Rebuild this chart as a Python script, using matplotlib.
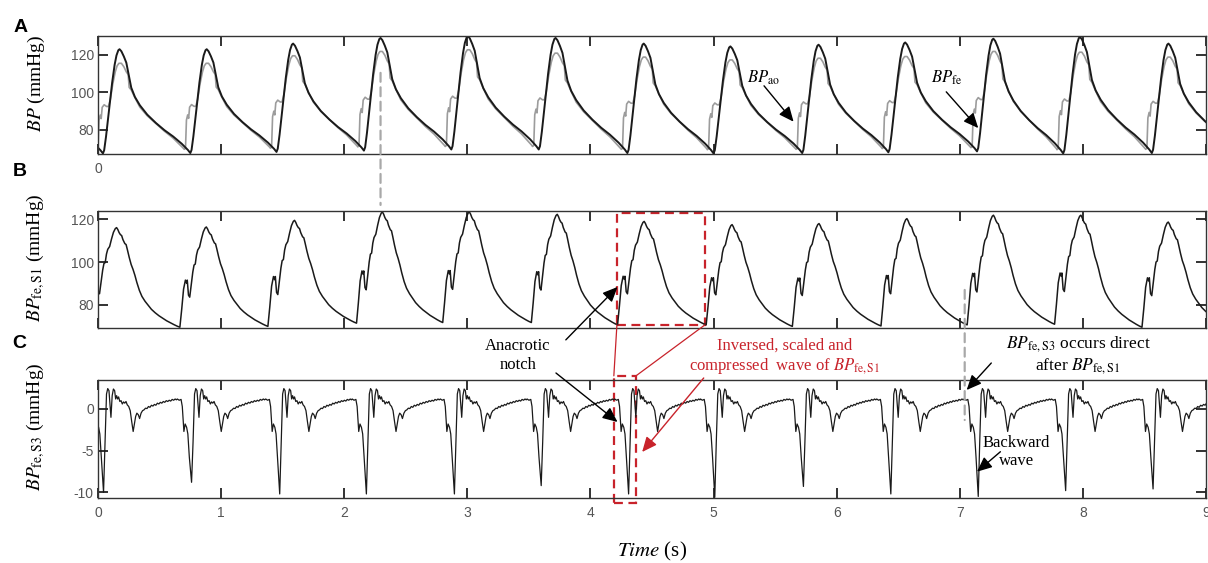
import numpy as np
import matplotlib
matplotlib.use("Agg")
import matplotlib.pyplot as plt
from matplotlib.patches import Rectangle, ConnectionPatch

plt.rcParams["font.family"] = ["Liberation Sans", "DejaVu Sans"]
plt.rcParams["mathtext.fontset"] = "stix"
plt.rcParams["axes.unicode_minus"] = False

# ---------------- data ----------------
# Panel A: beat onsets (foot of BP_ao), systolic peaks and diastolic lows (mmHg)
a_feet = [-0.67, 0.04, 0.75, 1.45, 2.16, 2.87, 3.58, 4.30, 5.00, 5.72, 6.42, 7.14, 7.84, 8.56, 9.27]
a_ao_peaks = [124, 123, 123, 126, 129, 130, 129, 126, 124.5, 125.4, 126.6, 128.6, 129.5, 126]
a_ao_lows = [68, 67.5, 67.7, 68.3, 69.0, 69.6, 69.6, 67.7, 67.5, 67.7, 68.1, 68.6, 67.5, 67.7, 68]
a_fe_peaks = [116, 115.5, 115.5, 119.5, 121.8, 122.7, 120.9, 118.8, 117.3, 118.2, 119.1, 121.8, 121.4, 118.8]
a_fe_lows = [70, 69.5, 69.7, 70.3, 71.0, 71.2, 71.2, 69.7, 69.5, 69.7, 70.1, 70.6, 69.5, 69.7, 70]

# one digitised beat of BP_ao (time after foot in s, fraction of pulse height)
ao_dt = [0.000, 0.010, 0.025, 0.050, 0.075, 0.095, 0.110, 0.125, 0.135, 0.150, 0.170, 0.190,
         0.210, 0.230, 0.260, 0.300, 0.360, 0.430, 0.500, 0.570, 0.640, 0.690]
ao_s = [0.00, 0.03, 0.16, 0.42, 0.68, 0.85, 0.94, 0.99, 1.00, 0.98, 0.93, 0.87,
        0.75, 0.63, 0.54, 0.46, 0.37, 0.29, 0.22, 0.16, 0.09, 0.03]

# one digitised beat of BP_fe (relative to the BP_ao foot)
fe_dt = [-0.050, -0.040, -0.032, -0.022, -0.014, -0.006, 0.010, 0.030, 0.045, 0.060, 0.080,
         0.100, 0.115, 0.130, 0.150, 0.170, 0.190, 0.205, 0.213, 0.230, 0.260, 0.300, 0.360,
         0.430, 0.500, 0.570, 0.620, 0.655]
fe_s = [0.00, 0.01, 0.34, 0.40, 0.36, 0.49, 0.52, 0.50, 0.50, 0.58, 0.76,
        0.90, 0.97, 1.00, 1.00, 0.96, 0.90, 0.87, 0.72, 0.69, 0.60, 0.49, 0.39,
        0.30, 0.21, 0.13, 0.06, 0.01]

# Panel B: BP_fe,S1
b_feet = [-0.07, 0.665, 1.38, 2.10, 2.80, 3.52, 4.22, 4.94, 5.64, 6.36, 7.06, 7.77, 8.48, 9.19]
b_peaks = [116.1, 116.4, 119.5, 123.4, 123.4, 122.3, 119.0, 117.5, 118.0, 120.3, 121.9, 121.9, 118.7]
b_lows = [72, 69.6, 70.0, 71.5, 71.8, 71.8, 70.7, 70.7, 70.0, 70.2, 70.7, 71.0, 69.6, 70]
s1_dt = [0.000, 0.015, 0.030, 0.045, 0.055, 0.060, 0.070, 0.080, 0.090, 0.105, 0.115, 0.125,
         0.135, 0.145, 0.160, 0.175, 0.190, 0.205, 0.215, 0.225, 0.235, 0.245, 0.255, 0.265,
         0.280, 0.290, 0.300, 0.315, 0.330, 0.345, 0.360, 0.375, 0.395, 0.415, 0.440, 0.465,
         0.490, 0.520, 0.550, 0.580, 0.610, 0.640, 0.670, 0.695]
s1_s = [0.00, 0.18, 0.38, 0.47, 0.44, 0.47, 0.32, 0.30, 0.40, 0.55, 0.62, 0.63,
        0.72, 0.77, 0.80, 0.88, 0.95, 0.99, 1.00, 0.98, 0.95, 0.93, 0.92, 0.88,
        0.84, 0.83, 0.78, 0.70, 0.63, 0.58, 0.52, 0.45, 0.37, 0.31, 0.26, 0.22,
        0.18, 0.145, 0.115, 0.09, 0.065, 0.045, 0.025, 0.01]

# Panel C: BP_fe,S3 (deep troughs and their depth)
c_troughs = [0.045, 0.76, 1.476, 2.18, 2.895, 3.60, 4.31, 5.01, 5.73, 6.44, 7.15, 7.86, 8.57, 9.28]
c_depths = [-10.0, -8.8, -10.2, -10.2, -10.2, -9.2, -10.2, -10.6, -9.3, -10.2, -10.5, -9.8, -9.6]
s3_dt = [-0.115, -0.100, -0.085, -0.075, -0.062, -0.052, -0.040, -0.030, -0.018, 0.000,
         0.012, 0.024, 0.034, 0.044, 0.052, 0.060, 0.070, 0.080, 0.090, 0.098, 0.106, 0.114,
         0.122, 0.132, 0.142, 0.152, 0.162, 0.172, 0.182, 0.192, 0.204, 0.216, 0.228, 0.240,
         0.250, 0.260, 0.270, 0.282, 0.292, 0.304, 0.316, 0.328, 0.340, 0.352, 0.364, 0.376,
         0.388, 0.400, 0.412, 0.424, 0.436, 0.448, 0.460, 0.472, 0.484, 0.496, 0.508, 0.520,
         0.532, 0.544, 0.556, 0.568, 0.580, 0.590]
s3_v = [1.20, 1.05, 1.15, 0.30, -2.70, -1.80, -2.20, -3.00, -5.80, np.nan,
        -4.0, 1.8, 2.45, 2.2, 0.6, -1.0, 1.6, 2.4, 2.2, 1.2, 1.6, 1.2,
        1.45, 0.9, 1.0, 0.6, 0.85, 0.7, 0.9, 0.5, 0.3, -0.2, -1.5, -2.7,
        -1.8, -0.9, -0.5, -0.7, -1.15, -0.5, -0.2, -0.1, 0.1, 0.05, 0.3, 0.2,
        0.45, 0.35, 0.55, 0.45, 0.7, 0.6, 0.8, 0.7, 0.9, 0.8, 1.0, 0.9,
        1.05, 0.95, 1.15, 1.05, 1.2, 1.1]

x_ticks = list(range(10))


def beats(starts, peaks, lows, dts, shape, period):
    # repeat one digitised beat at every onset, stretched to the beat length
    top = dts[int(np.argmax(shape))]
    ts, vs = [], []
    for i in range(len(starts) - 1):
        k = (starts[i + 1] - starts[i]) / period
        for dt, s in zip(dts, shape):
            low = lows[i] if dt <= top else lows[i + 1]
            ts.append(starts[i] + dt * k)
            vs.append(low + s * (peaks[i] - low))
    return np.array(ts), np.array(vs)


def s3_wave(troughs, depths, dts, vals, period):
    ts, vs = [], []
    for i in range(len(troughs) - 1):
        k = (troughs[i + 1] - troughs[i]) / period
        for dt, v in zip(dts, vals):
            ts.append(troughs[i] + dt * k)
            vs.append(depths[i] if np.isnan(v) else v)
    return np.array(ts), np.array(vs)


t_ao, v_ao = beats(a_feet, a_ao_peaks, a_ao_lows, ao_dt, ao_s, 0.71)
t_fe, v_fe = beats(a_feet, a_fe_peaks, a_fe_lows, fe_dt, fe_s, 0.71)
t_s1, v_s1 = beats(b_feet, b_peaks, b_lows, s1_dt, s1_s, 0.715)
t_s3, v_s3 = s3_wave(c_troughs, c_depths, s3_dt, s3_v, 0.713)

# ---------------- figure ----------------
fig = plt.figure(figsize=(12.08, 5.63), dpi=100)
W, H = 1208, 563
left, right = 98, 1206


def add_ax(top, bottom):
    return fig.add_axes([left / W, 1 - bottom / H, (right - left) / W, (bottom - top) / H])


axA = add_ax(35.5, 154)
axB = add_ax(210.7, 328.3)
axC = add_ax(380, 497.7)

RED = "#c8232b"
SERIF = "Liberation Serif"

axA.plot(t_fe, v_fe, color="#9c9c9c", lw=1.2)
axA.plot(t_ao, v_ao, color="#1a1a1a", lw=1.4)
axB.plot(t_s1, v_s1, color="#1a1a1a", lw=1.1)
axC.plot(t_s3, v_s3, color="#1a1a1a", lw=0.9)

axA.set_ylim(67.2, 130.3)
axB.set_ylim(69.1, 124.0)
axC.set_ylim(-10.65, 3.48)
axA.set_yticks([80, 100, 120])
axB.set_yticks([80, 100, 120])
axC.set_yticks([-10, -5, 0])

for ax in (axA, axB, axC):
    ax.set_xlim(0, 9)
    ax.set_xticks(x_ticks)
    ax.tick_params(direction="in", top=True, right=True, length=7, width=1.3,
                   color="#222222", labelcolor="#555555", labelsize=10, pad=3)
    ax.tick_params(axis="x", pad=6)
    for sp in ax.spines.values():
        sp.set_color("#333333")
        sp.set_linewidth(1.0)

axA.set_xticklabels(["0"] + [""] * 9)
axB.set_xticklabels([""] * 10)
axC.set_xticklabels([str(x) for x in x_ticks])

axA.set_ylabel(r"$BP$ (mmHg)", family=SERIF, fontsize=14)
axB.set_ylabel(r"$BP_{\rm fe,S1}$ (mmHg)", family=SERIF, fontsize=14)
axC.set_ylabel(r"$BP_{\rm fe,S3}$ (mmHg)", family=SERIF, fontsize=14)
for ax in (axA, axB, axC):
    ax.yaxis.set_label_coords(-0.046, 0.6)
axC.set_xlabel(r"$Time$ (s)", family=SERIF, fontsize=15, labelpad=14)

for letter, (px, py) in zip("ABC", [(21, 27), (20, 172), (19, 343)]):
    fig.text(px / W, 1 - py / H, letter, fontsize=14, fontweight="bold",
             ha="center", va="center")

# ---------------- annotations ----------------
black_arrow = dict(arrowstyle="-|>,head_length=0.9,head_width=0.4", color="black", lw=1.0,
                   shrinkA=0, shrinkB=0)
red_arrow = dict(arrowstyle="-|>,head_length=0.9,head_width=0.4", color=RED, lw=1.0,
                 shrinkA=0, shrinkB=0)

axA.text(5.27, 107.7, r"$BP_{\rm ao}$", family=SERIF, fontsize=12, va="center")
axA.annotate("", xy=(5.65, 84.4), xytext=(5.41, 103.5), arrowprops=black_arrow)
axA.text(6.77, 107.7, r"$BP_{\rm fe}$", family=SERIF, fontsize=12, va="center")
axA.annotate("", xy=(7.15, 81.0), xytext=(6.89, 100.3), arrowprops=black_arrow)

# red boxes and connecting lines
axB.add_patch(Rectangle((4.215, 70.7), 0.715, 52.2, fill=False, ec=RED, lw=1.6,
                        ls=(0, (4, 2.5))))
axC.add_patch(Rectangle((4.19, -11.3), 0.18, 15.28, fill=False, ec=RED, lw=1.6,
                        ls=(0, (4, 2.5)), clip_on=False))
for xa, xc in [(4.215, 4.19), (4.93, 4.37)]:
    fig.add_artist(ConnectionPatch(xyA=(xa, 70.7), coordsA=axB.transData,
                                   xyB=(xc, 3.98), coordsB=axC.transData,
                                   color=RED, lw=0.9))

# grey dashed guides
fig.add_artist(ConnectionPatch(xyA=(2.295, 110.4), coordsA=axA.transData,
                               xyB=(2.295, 126.7), coordsB=axB.transData,
                               color="#a8a8a8", lw=1.6, ls=(0, (4, 2.5))))
fig.add_artist(ConnectionPatch(xyA=(7.04, 87.0), coordsA=axB.transData,
                               xyB=(7.04, -1.32), coordsB=axC.transData,
                               color="#a8a8a8", lw=1.6, ls=(0, (4, 2.5))))

axC.text(3.41, 6.48, "Anacrotic\nnotch", family=SERIF, fontsize=12, ha="center",
         va="center", linespacing=1.25)
axB.annotate("", xy=(4.22, 88.4), xytext=(3.80, 63.7), arrowprops=black_arrow,
             annotation_clip=False)
axC.annotate("", xy=(4.22, -1.56), xytext=(3.72, 4.32), arrowprops=black_arrow,
             annotation_clip=False)

axC.text(5.58, 6.24, "Inversed, scaled and\ncompressed  wave of $BP_{\\rm fe,S1}$",
         family=SERIF, fontsize=12, color=RED, ha="center", va="center", linespacing=1.2)
axC.annotate("", xy=(4.42, -5.16), xytext=(4.92, 3.72), arrowprops=red_arrow,
             annotation_clip=False)

axC.text(7.96, 6.48, "$BP_{\\rm fe,S3}$ occurs direct\nafter $BP_{\\rm fe,S1}$",
         family=SERIF, fontsize=12.5, ha="center", va="center", linespacing=1.2)
axC.annotate("", xy=(7.056, 2.28), xytext=(7.256, 5.52), arrowprops=black_arrow,
             annotation_clip=False)

axC.text(7.46, -5.2, "Backward\nwave", family=SERIF, fontsize=12, ha="center",
         va="center", linespacing=1.15)
axC.annotate("", xy=(7.14, -7.53), xytext=(7.33, -5.13), arrowprops=black_arrow)

fig.savefig("out.png", dpi=100)
